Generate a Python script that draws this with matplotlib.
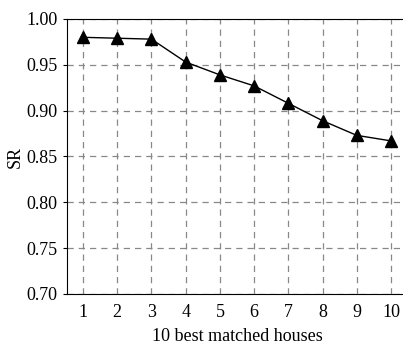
import matplotlib
matplotlib.use("Agg")
import matplotlib.pyplot as plt

plt.rcParams['font.family'] = ['Liberation Serif', 'DejaVu Serif']

houses = [1, 2, 3, 4, 5, 6, 7, 8, 9, 10]
sr = [0.980, 0.979, 0.978, 0.953, 0.939, 0.927, 0.908, 0.889, 0.873, 0.867]
yticks = [0.70, 0.75, 0.80, 0.85, 0.90, 0.95, 1.00]

fig = plt.figure(figsize=(4.03, 3.45), dpi=100)
ax = fig.add_axes([0.166, 0.148, 0.845, 0.797])

ax.plot(houses, sr, color='black', linewidth=1, marker='^', markersize=8, zorder=3)

ax.set_xlim(0.53, 10.48)
ax.set_ylim(0.70, 1.00)
ax.set_xticks(houses)
ax.set_yticks(yticks)
ax.set_yticklabels(['%.2f' % v for v in yticks])
ax.grid(True, linestyle=(0, (5, 4)), color='#888888', linewidth=0.9)
ax.spines['right'].set_visible(False)
ax.tick_params(labelsize=13, direction='out', length=3, width=0.8)
ax.tick_params(axis='x', length=0, pad=7)

ax.set_xlabel('10 best matched houses', fontsize=13, labelpad=5)
ax.set_ylabel('SR', fontsize=13, labelpad=2)

plt.savefig('out.png', dpi=100)
